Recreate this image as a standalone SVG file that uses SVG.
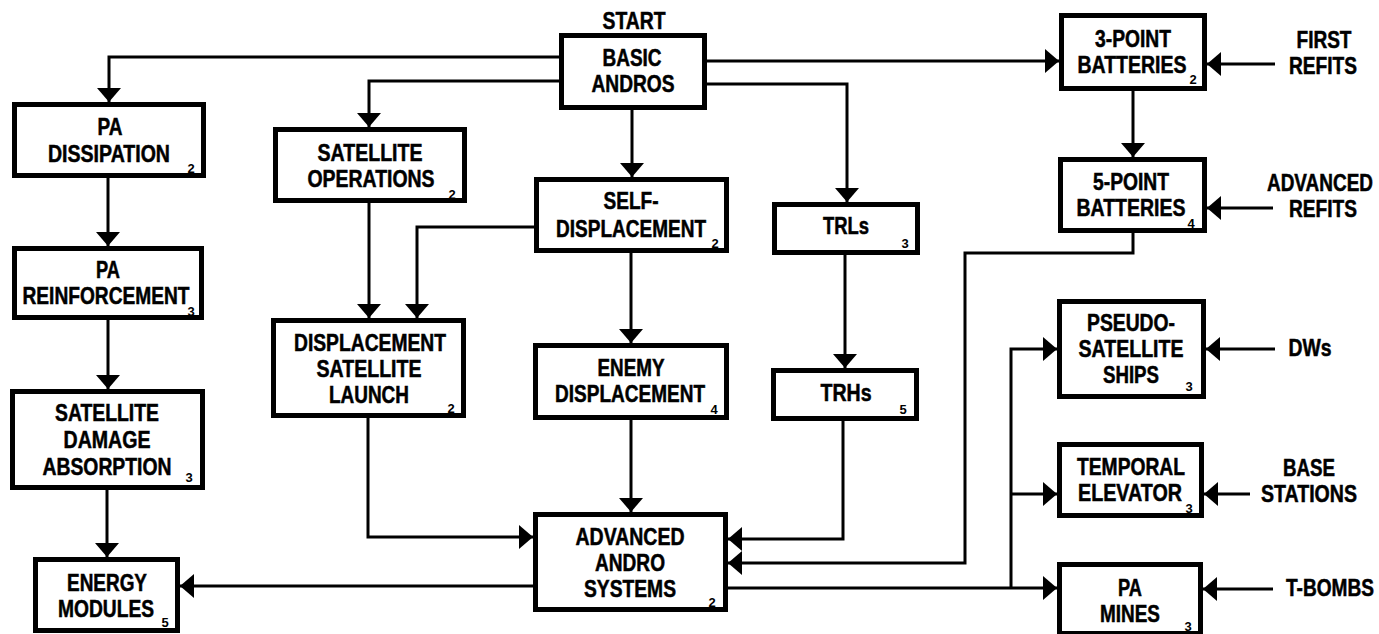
<svg xmlns="http://www.w3.org/2000/svg" width="1379" height="634" viewBox="0 0 1379 634">
<style>
.box{fill:#fff;stroke:#000;stroke-width:5}
.t{font-family:"Liberation Sans",Arial,sans-serif;font-weight:bold;font-size:23px;fill:#000;stroke:#000;stroke-width:0.5;text-anchor:middle}
.s{font-family:"Liberation Sans",Arial,sans-serif;font-weight:bold;font-size:13px;fill:#000;text-anchor:middle}
.c{fill:none;stroke:#000;stroke-width:3}
</style>
<defs>
<marker id="ah" viewBox="0 0 14 24" refX="14" refY="12" markerWidth="14" markerHeight="24" markerUnits="userSpaceOnUse" orient="auto">
<path d="M0,0 L14,12 L0,24 z" fill="#000"/>
</marker>
</defs>
<rect width="1379" height="634" fill="#fff"/>
<g id="connectors">
<path class="c" d="M559,57 H109 V102" marker-end="url(#ah)"/>
<path class="c" d="M559,81 H369 V127" marker-end="url(#ah)"/>
<path class="c" d="M707,61 H1059" marker-end="url(#ah)"/>
<path class="c" d="M707,84 H847 V202" marker-end="url(#ah)"/>
<path class="c" d="M632,110 V177" marker-end="url(#ah)"/>
<path class="c" d="M108,178 V246" marker-end="url(#ah)"/>
<path class="c" d="M108,320 V389" marker-end="url(#ah)"/>
<path class="c" d="M107,490 V557" marker-end="url(#ah)"/>
<path class="c" d="M369,203 V318" marker-end="url(#ah)"/>
<path class="c" d="M535,227 H417 V318" marker-end="url(#ah)"/>
<path class="c" d="M631,253 V343" marker-end="url(#ah)"/>
<path class="c" d="M845,254 V368" marker-end="url(#ah)"/>
<path class="c" d="M368,418 V537 H533" marker-end="url(#ah)"/>
<path class="c" d="M631,420 V512" marker-end="url(#ah)"/>
<path class="c" d="M843,421 V539 H728" marker-end="url(#ah)"/>
<path class="c" d="M1133,233 V253 H965 V563 H728" marker-end="url(#ah)"/>
<path class="c" d="M533,586 H180" marker-end="url(#ah)"/>
<path class="c" d="M728,588 H1057" marker-end="url(#ah)"/>
<path class="c" d="M1011,588 V349 H1057" marker-end="url(#ah)"/>
<path class="c" d="M1011,494 H1057" marker-end="url(#ah)"/>
<path class="c" d="M1133,91 V157" marker-end="url(#ah)"/>
<path class="c" d="M1275,64 H1207" marker-end="url(#ah)"/>
<path class="c" d="M1273,208 H1207" marker-end="url(#ah)"/>
<path class="c" d="M1275,349 H1206" marker-end="url(#ah)"/>
<path class="c" d="M1250,494 H1204" marker-end="url(#ah)"/>
<path class="c" d="M1273,589 H1203" marker-end="url(#ah)"/>
</g>
<g id="start-label"><text class="t" x="634" y="29" textLength="63" lengthAdjust="spacingAndGlyphs">START</text></g>
<g id="basic-andros">
<rect class="box" x="561.5" y="35.5" width="143" height="72"/>
<text class="t" x="632" y="66" textLength="59" lengthAdjust="spacingAndGlyphs">BASIC</text>
<text class="t" x="633" y="92" textLength="83" lengthAdjust="spacingAndGlyphs">ANDROS</text>
</g>
<g id="pa-dissipation">
<rect class="box" x="14.5" y="104.5" width="189" height="71"/>
<text class="t" x="110" y="135" textLength="25" lengthAdjust="spacingAndGlyphs">PA</text>
<text class="t" x="109" y="162" textLength="122" lengthAdjust="spacingAndGlyphs">DISSIPATION</text>
<text class="s" x="191" y="173">2</text>
</g>
<g id="satellite-operations">
<rect class="box" x="275.5" y="129.5" width="189" height="71"/>
<text class="t" x="370" y="161" textLength="105" lengthAdjust="spacingAndGlyphs">SATELLITE</text>
<text class="t" x="371" y="187" textLength="127" lengthAdjust="spacingAndGlyphs">OPERATIONS</text>
<text class="s" x="452" y="199">2</text>
</g>
<g id="self-displacement">
<rect class="box" x="536.5" y="179.5" width="190" height="71"/>
<text class="t" x="631" y="209" textLength="55" lengthAdjust="spacingAndGlyphs">SELF-</text>
<text class="t" x="631" y="237" textLength="150" lengthAdjust="spacingAndGlyphs">DISPLACEMENT</text>
<text class="s" x="715" y="248">2</text>
</g>
<g id="trls">
<rect class="box" x="774.5" y="204.5" width="143" height="48"/>
<text class="t" x="846" y="234" textLength="46" lengthAdjust="spacingAndGlyphs">TRLs</text>
<text class="s" x="905" y="248">3</text>
</g>
<g id="three-point-batteries">
<rect class="box" x="1061.5" y="15.5" width="143" height="73"/>
<text class="t" x="1133" y="47" textLength="76" lengthAdjust="spacingAndGlyphs">3-POINT</text>
<text class="t" x="1132" y="73" textLength="109" lengthAdjust="spacingAndGlyphs">BATTERIES</text>
<text class="s" x="1193" y="84">2</text>
</g>
<g id="first-refits">
<text class="t" x="1324" y="48" textLength="55" lengthAdjust="spacingAndGlyphs">FIRST</text>
<text class="t" x="1323" y="74" textLength="68" lengthAdjust="spacingAndGlyphs">REFITS</text>
</g>
<g id="five-point-batteries">
<rect class="box" x="1060.5" y="159.5" width="144" height="71"/>
<text class="t" x="1131" y="190" textLength="76" lengthAdjust="spacingAndGlyphs">5-POINT</text>
<text class="t" x="1131" y="216" textLength="109" lengthAdjust="spacingAndGlyphs">BATTERIES</text>
<text class="s" x="1191" y="228">4</text>
</g>
<g id="advanced-refits">
<text class="t" x="1320" y="191" textLength="106" lengthAdjust="spacingAndGlyphs">ADVANCED</text>
<text class="t" x="1323" y="217" textLength="68" lengthAdjust="spacingAndGlyphs">REFITS</text>
</g>
<g id="pa-reinforcement">
<rect class="box" x="14.5" y="248.5" width="187" height="69"/>
<text class="t" x="108" y="278" textLength="24" lengthAdjust="spacingAndGlyphs">PA</text>
<text class="t" x="106" y="304" textLength="167" lengthAdjust="spacingAndGlyphs">REINFORCEMENT</text>
<text class="s" x="191" y="316">3</text>
</g>
<g id="displacement-satellite-launch">
<rect class="box" x="273.5" y="320.5" width="190" height="95"/>
<text class="t" x="370" y="351" textLength="152" lengthAdjust="spacingAndGlyphs">DISPLACEMENT</text>
<text class="t" x="369" y="377" textLength="105" lengthAdjust="spacingAndGlyphs">SATELLITE</text>
<text class="t" x="369" y="403" textLength="80" lengthAdjust="spacingAndGlyphs">LAUNCH</text>
<text class="s" x="451" y="413">2</text>
</g>
<g id="enemy-displacement">
<rect class="box" x="535.5" y="345.5" width="191" height="72"/>
<text class="t" x="631" y="376" textLength="67" lengthAdjust="spacingAndGlyphs">ENEMY</text>
<text class="t" x="630" y="402" textLength="150" lengthAdjust="spacingAndGlyphs">DISPLACEMENT</text>
<text class="s" x="714" y="414">4</text>
</g>
<g id="trhs">
<rect class="box" x="773.5" y="370.5" width="143" height="48"/>
<text class="t" x="846" y="401" textLength="51" lengthAdjust="spacingAndGlyphs">TRHs</text>
<text class="s" x="903" y="414">5</text>
</g>
<g id="satellite-damage-absorption">
<rect class="box" x="12.5" y="391.5" width="190" height="96"/>
<text class="t" x="107" y="421" textLength="104" lengthAdjust="spacingAndGlyphs">SATELLITE</text>
<text class="t" x="107" y="448" textLength="87" lengthAdjust="spacingAndGlyphs">DAMAGE</text>
<text class="t" x="107" y="475" textLength="129" lengthAdjust="spacingAndGlyphs">ABSORPTION</text>
<text class="s" x="189" y="482">3</text>
</g>
<g id="pseudo-satellite-ships">
<rect class="box" x="1059.5" y="301.5" width="144" height="95"/>
<text class="t" x="1131" y="331" textLength="88" lengthAdjust="spacingAndGlyphs">PSEUDO-</text>
<text class="t" x="1131" y="357" textLength="105" lengthAdjust="spacingAndGlyphs">SATELLITE</text>
<text class="t" x="1131" y="383" textLength="56" lengthAdjust="spacingAndGlyphs">SHIPS</text>
<text class="s" x="1189" y="391">3</text>
</g>
<g id="dws"><text class="t" x="1310" y="356" textLength="43" lengthAdjust="spacingAndGlyphs">DWs</text></g>
<g id="temporal-elevator">
<rect class="box" x="1059.5" y="444.5" width="142" height="71"/>
<text class="t" x="1131" y="475" textLength="108" lengthAdjust="spacingAndGlyphs">TEMPORAL</text>
<text class="t" x="1130" y="501" textLength="104" lengthAdjust="spacingAndGlyphs">ELEVATOR</text>
<text class="s" x="1189" y="513">3</text>
</g>
<g id="base-stations">
<text class="t" x="1309" y="476" textLength="52" lengthAdjust="spacingAndGlyphs">BASE</text>
<text class="t" x="1309" y="502" textLength="96" lengthAdjust="spacingAndGlyphs">STATIONS</text>
</g>
<g id="advanced-andro-systems">
<rect class="box" x="535.5" y="514.5" width="190" height="95"/>
<text class="t" x="630" y="545" textLength="109" lengthAdjust="spacingAndGlyphs">ADVANCED</text>
<text class="t" x="630" y="571" textLength="70" lengthAdjust="spacingAndGlyphs">ANDRO</text>
<text class="t" x="630" y="597" textLength="92" lengthAdjust="spacingAndGlyphs">SYSTEMS</text>
<text class="s" x="712" y="607">2</text>
</g>
<g id="energy-modules">
<rect class="box" x="35.5" y="559.5" width="142" height="71"/>
<text class="t" x="107" y="591" textLength="80" lengthAdjust="spacingAndGlyphs">ENERGY</text>
<text class="t" x="106" y="617" textLength="96" lengthAdjust="spacingAndGlyphs">MODULES</text>
<text class="s" x="165" y="627">5</text>
</g>
<g id="pa-mines">
<rect class="box" x="1059.5" y="564.5" width="141" height="69"/>
<text class="t" x="1130" y="596" textLength="24" lengthAdjust="spacingAndGlyphs">PA</text>
<text class="t" x="1130" y="622" textLength="60" lengthAdjust="spacingAndGlyphs">MINES</text>
<text class="s" x="1188" y="631">3</text>
</g>
<g id="t-bombs"><text class="t" x="1330" y="596" textLength="88" lengthAdjust="spacingAndGlyphs">T-BOMBS</text></g>
</svg>
